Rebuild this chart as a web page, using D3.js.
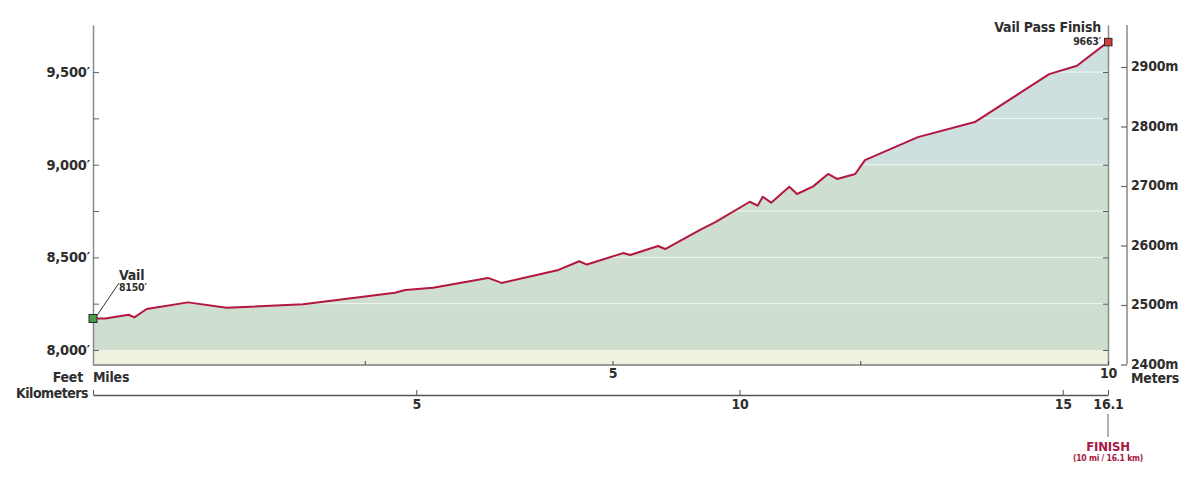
<!DOCTYPE html>
<html><head><meta charset="utf-8">
<script src="https://cdn.jsdelivr.net/npm/d3@7"></script>
<style>
body{margin:0;background:#fff}
svg{display:block}
text{font-family:'DejaVu Sans Condensed','DejaVu Sans',sans-serif;font-weight:bold;fill:#2e2e2e;letter-spacing:-0.2px}
</style>
</head><body>
<svg id="c" width="1196" height="485"></svg>
<script>
// ---- data ----
const distanceKm = [0,0.19,0.55,0.64,0.83,1.47,2.07,3.25,4.67,4.83,5.26,6.11,6.32,7.20,7.52,7.64,8.20,8.31,8.74,8.85,9.39,9.62,10.16,10.28,10.36,10.49,10.77,10.89,11.14,11.37,11.51,11.79,11.94,12.76,13.64,14.79,15.22,15.70];
const elevationFt = [8170,8170,8190,8176,8221,8257,8228,8247,8309,8324,8336,8389,8362,8432,8479,8461,8523,8513,8561,8545,8648,8689,8800,8779,8827,8795,8881,8842,8883,8950,8923,8950,9025,9149,9230,9489,9534,9663];
const feetLabels = [8000,8500,9000,9500];
const feetGrid = [8000,8250,8500,8750,9000,9250,9500];
const meterTicks = [2400,2500,2600,2700,2800,2900];
const mileTicks = [2.5,5,7.5,10];
const mileLabels = [5,10];
const kmTicks = [0,5,10,15,16.1];
const kmLabels = [5,10,15,16.1];
const startLabel = ["Vail","8150′"];
const finishLabel = ["Vail Pass Finish","9663′"];
const finishNote = ["FINISH","(10 mi / 16.1 km)"];

const data = distanceKm.map((k,i)=>({km:k, ft:elevationFt[i]}));

// ---- layout ----
const L=93, R=1108, T=25, B=365, MX=1127, KY=395;
const svg = d3.select("#c");
const x = d3.scaleLinear().domain([0,15.7]).range([L,R]);
const xKm = x.copy().clamp(true);
const xMi = d3.scaleLinear().domain([0,10]).range([117,R]);
const y = d3.scaleLinear().domain([7919,9754]).range([B,T]);
const yM = d3.scaleLinear().domain([2400,2900]).range([364.5,67]);

const area = d3.area().x(d=>x(d.km)).y0(B).y1(d=>y(d.ft));
const line = d3.line().x(d=>x(d.km)).y(d=>y(d.ft));

const defs = svg.append("defs");
defs.append("clipPath").attr("id","ac").append("path").attr("d", area(data));

const g = svg.append("g").attr("clip-path","url(#ac)");
g.append("rect").attr("x",L).attr("y",T).attr("width",R-L).attr("height",B-T).attr("fill","#cedfcf");
g.append("rect").attr("x",L).attr("y",T).attr("width",R-L).attr("height",y(9000)-T).attr("fill","#cde0df");
g.append("rect").attr("x",L).attr("y",y(8000)).attr("width",R-L).attr("height",B-y(8000)).attr("fill","#edf3e0");
g.selectAll("line.grid").data(feetGrid.filter(d=>d>8000)).join("line")
  .attr("x1",L).attr("x2",R).attr("y1",d=>y(d)).attr("y2",d=>y(d))
  .attr("stroke","#fff").attr("stroke-opacity",0.75).attr("stroke-width",1);

// profile line
svg.append("path").attr("d", line(data)).attr("fill","none")
  .attr("stroke","#b3163f").attr("stroke-width",2).attr("stroke-linejoin","round");

// left axis (feet)
const ax = svg.append("g").attr("transform",`translate(${L},0)`)
  .call(d3.axisLeft(y).tickValues(feetGrid).tickSize(-6).tickSizeOuter(0).tickPadding(3)
    .tickFormat(d=>feetLabels.includes(d)? d3.format(",")(d)+"′" : ""));
ax.select(".domain").attr("stroke","#8a8a8a").attr("stroke-width",1.5);
ax.selectAll(".tick line").attr("stroke","#666");
ax.selectAll("text").style("font-size","14.5px").attr("fill","#2e2e2e");

// right plot edge
const axr = svg.append("g").attr("transform",`translate(${R},0)`)
  .call(d3.axisRight(y).tickValues(feetGrid).tickSize(-5).tickSizeOuter(0).tickFormat(""));
axr.select(".domain").attr("stroke","#8a8a8a").attr("stroke-width",1.5);
axr.selectAll(".tick line").attr("stroke","#555");

// meters axis
svg.append("line").attr("x1",MX).attr("x2",MX).attr("y1",T).attr("y2",yM(2400))
  .attr("stroke","#8a8a8a").attr("stroke-width",1.5);
const am = svg.append("g").attr("transform",`translate(${MX},0)`)
  .call(d3.axisRight(yM).tickValues(meterTicks).tickSize(-6).tickPadding(4).tickFormat(d=>d+"m"));
am.select(".domain").remove();
am.selectAll(".tick line").attr("stroke","#666").attr("stroke-width",1.2);
am.selectAll("text").style("font-size","14px").attr("dy","0.28em").attr("fill","#2e2e2e");

// bottom (miles)
const amx = svg.append("g").attr("transform",`translate(0,${B})`)
  .call(d3.axisBottom(xMi).tickValues(mileTicks).tickSize(-4).tickSizeOuter(0).tickPadding(3)
    .tickFormat(d=>mileLabels.includes(d)? d : ""));
amx.select(".domain").attr("d",`M${L},0H${R}`).attr("stroke","#999").attr("stroke-width",2);
amx.selectAll(".tick line").attr("stroke","#444");
amx.selectAll("text").style("font-size","14px").attr("fill","#2e2e2e");

// km axis
const ak = svg.append("g").attr("transform",`translate(0,${KY})`)
  .call(d3.axisBottom(xKm).tickValues(kmTicks).tickSize(-5).tickSizeOuter(0).tickPadding(4)
    .tickFormat(d=>kmLabels.includes(d)? d : ""));
ak.select(".domain").attr("stroke","#555").attr("stroke-width",1.5);
ak.selectAll(".tick line").attr("stroke","#555");
ak.selectAll("text").style("font-size","14px").attr("fill","#2e2e2e");

// axis titles
const t = (txt,xx,yy,anchor,size)=>svg.append("text").attr("x",xx).attr("y",yy)
  .attr("text-anchor",anchor).style("font-size",size+"px").text(txt);
t("Feet",83,382,"end",14);
t("Miles",93,382,"start",14);
t("Kilometers",88,398,"end",14).style("letter-spacing","-0.5px");
t("Meters",1131,383,"start",14);

// finish leader + note
svg.append("line").attr("x1",R).attr("x2",R).attr("y1",414).attr("y2",437)
  .attr("stroke","#999").attr("stroke-width",1.5);
t(finishNote[0],R,451,"middle",13).style("fill","#a8173f");
t(finishNote[1],R,461,"middle",8.5).style("fill","#a8173f");

// start marker
const s = data[0], f = data[data.length-1];
svg.append("line").attr("x1",x(s.km)+4).attr("y1",y(s.ft)-3).attr("x2",119).attr("y2",283)
  .attr("stroke","#333").attr("stroke-width",1);
svg.append("rect").attr("x",x(s.km)-4).attr("y",y(s.ft)-4).attr("width",8).attr("height",8)
  .attr("fill","#4c9d47").attr("stroke","#2a2a2a").attr("stroke-width",1);
t(startLabel[0],119,280,"start",14);
t(startLabel[1],119,291,"start",10.5);

// finish marker
svg.append("rect").attr("x",x(f.km)-3.5).attr("y",y(f.ft)-3.5).attr("width",7.5).attr("height",7.5)
  .attr("fill","#d23c3c").attr("stroke","#2a2a2a").attr("stroke-width",1);
t(finishLabel[0],1101,32,"end",14);
t(finishLabel[1],1101,45,"end",10.5);
</script>
</body></html>
